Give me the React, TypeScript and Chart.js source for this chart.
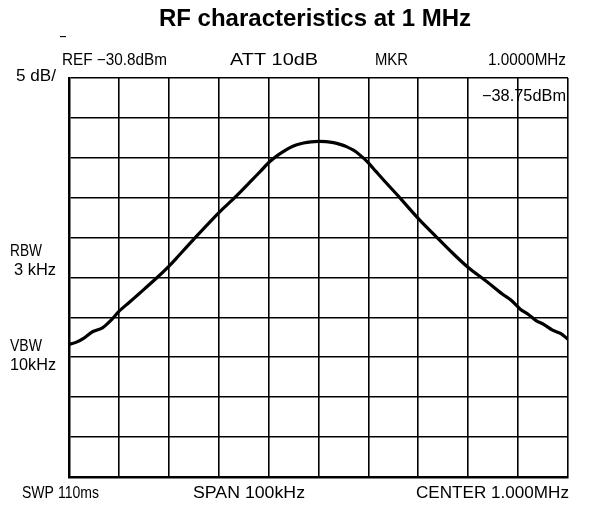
import React, { useEffect, useRef } from "react";
import { Chart, registerables } from "chart.js";

Chart.register(...registerables);

// ---- data ----
const TITLE = "RF characteristics at 1 MHz";
// frequency offset from the 1.000 MHz centre, kHz
const freqOffsetKHz = [
  -50, -48.5, -47, -45.3, -43.3, -41.5, -40, -37.9, -35.9, -32.5,
  -30, -28.5, -25.3, -20, -16.8, -13.5, -11.5, -9.8, -8.2, -7,
  -5.8, -4.5, -3, -1.5, 0, 1.5, 3, 4.5, 5.6, 7,
  8.2, 9.8, 11.5, 13.5, 16, 20.2, 23.6, 26.8, 30, 33.7,
  36.9, 38.5, 40.5, 42, 43.6, 45.2, 46.9, 48.5, 50,
];
// measured level, dBm
const levelDBm = [
  -64.2, -63.9, -63.4, -62.6, -62.1, -61.1, -60.05, -58.9, -57.8, -55.9,
  -54.4, -53.4, -51.2, -47.7, -45.8, -43.7, -42.4, -41.3, -40.5, -40.0,
  -39.55, -39.2, -38.95, -38.8, -38.75, -38.78, -38.9, -39.15, -39.4, -39.85,
  -40.4, -41.3, -42.5, -43.9, -45.6, -48.55, -50.7, -52.7, -54.55, -56.3,
  -57.9, -58.6, -59.8, -60.4, -61.2, -61.7, -62.4, -62.8, -63.55,
];
// grid divisions: 10 kHz/div horizontally, 5 dB/div from REF -30.8 dBm
const xTicks = [-50, -40, -30, -20, -10, 0, 10, 20, 30, 40, 50];
const yTicks = [-80.8, -75.8, -70.8, -65.8, -60.8, -55.8, -50.8, -45.8, -40.8, -35.8, -30.8];

// screen annotations of the analyser (text, left x, centre y, width) in page px
const annotations: { t: string; x: number; y: number; w: number }[] = [
  { t: "\u2013", x: 60, y: 37, w: 6 },
  { t: "REF \u221230.8dBm", x: 62, y: 61, w: 105 },
  { t: "ATT 10dB", x: 230, y: 61, w: 88 },
  { t: "MKR", x: 375, y: 61, w: 33 },
  { t: "1.0000MHz", x: 488, y: 61, w: 78 },
  { t: "5 dB/", x: 16, y: 77, w: 40 },
  { t: "\u221238.75dBm", x: 482, y: 97, w: 84 },
  { t: "RBW", x: 10, y: 252, w: 32 },
  { t: "3 kHz", x: 14, y: 271, w: 42 },
  { t: "VBW", x: 10, y: 347, w: 32 },
  { t: "10kHz", x: 10, y: 366, w: 46 },
  { t: "SWP 110ms", x: 22, y: 494, w: 77 },
  { t: "SPAN 100kHz", x: 193, y: 494, w: 112 },
  { t: "CENTER 1.000MHz", x: 416, y: 494, w: 153 },
];

const OFF = 8; // body margin

const textPlugin = {
  id: "analyserText",
  afterDraw(chart: any) {
    const ctx = chart.ctx as CanvasRenderingContext2D;
    ctx.save();
    ctx.fillStyle = "#000";
    // title
    ctx.font = "bold 24px 'Liberation Sans', Arial, sans-serif";
    ctx.textAlign = "center";
    ctx.textBaseline = "alphabetic";
    ctx.fillText(TITLE, 315 - OFF, 26 - OFF);
    // annotations, fitted to their widths
    ctx.textAlign = "left";
    ctx.textBaseline = "middle";
    ctx.font = "16px 'Liberation Sans', Arial, sans-serif";
    for (const a of annotations) {
      const m = ctx.measureText(a.t).width;
      const sx = a.w / m;
      ctx.save();
      ctx.translate(a.x - OFF, a.y - OFF);
      ctx.scale(sx, 1);
      ctx.fillText(a.t, 0, 0);
      ctx.restore();
    }
    ctx.restore();
  },
};

export default function App() {
  const ref = useRef<HTMLCanvasElement | null>(null);
  useEffect(() => {
    if (!ref.current) return;
    const chart = new Chart(ref.current, {
      type: "line",
      data: {
        datasets: [
          {
            data: freqOffsetKHz.map((f, i) => ({ x: f, y: levelDBm[i] })),
            borderColor: "#000",
            borderWidth: 3.2,
            pointRadius: 0,
            tension: 0.3,
            fill: false,
          },
        ],
      },
      options: {
        animation: false,
        responsive: false,
        layout: { padding: { left: 61, right: 15, top: 70, bottom: 22 } },
        plugins: { legend: { display: false }, tooltip: { enabled: false }, title: { display: false } },
        scales: {
          x: {
            type: "linear",
            min: -50,
            max: 50,
            afterBuildTicks: (axis: any) => {
              axis.ticks = xTicks.map((v) => ({ value: v }));
            },
            ticks: { display: false },
            grid: { color: "#000", lineWidth: 1.6, drawTicks: false },
            border: { color: "#000", width: 2.5 },
          },
          y: {
            type: "linear",
            min: -80.8,
            max: -30.8,
            afterBuildTicks: (axis: any) => {
              axis.ticks = yTicks.map((v) => ({ value: v }));
            },
            ticks: { display: false },
            grid: { color: "#000", lineWidth: 1.6, drawTicks: false },
            border: { color: "#000", width: 2.5 },
          },
        },
      },
      plugins: [textPlugin],
    });
    return () => chart.destroy();
  }, []);
  return (
    <div style={{ width: 575, height: 491 }}>
      <canvas ref={ref} width={575} height={491} style={{ display: "block" }} />
    </div>
  );
}
